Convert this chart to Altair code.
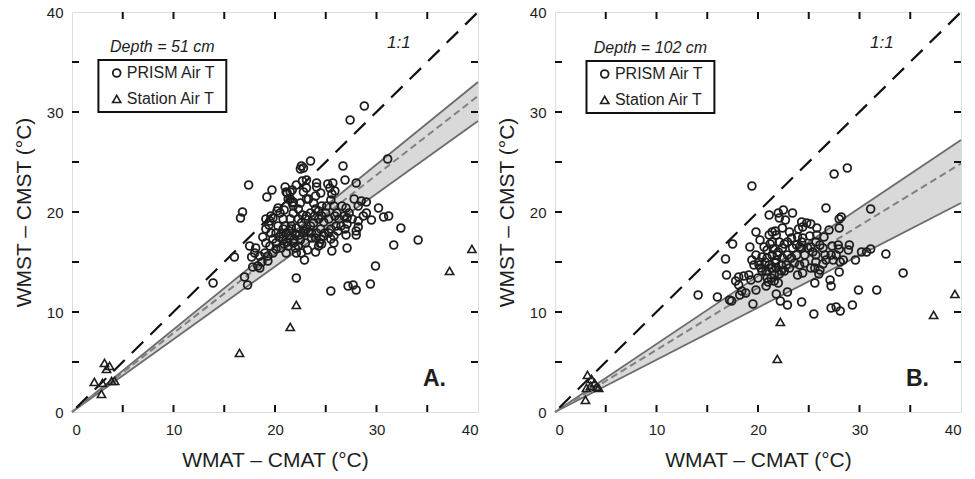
import altair as alt
import pandas as pd

# ---------------- data ----------------
# Panel A (Depth = 51 cm)
A_prism_x = [28.8, 27.4, 31.1, 17.4, 19.7, 19.2, 16.8, 16.6, 16.0, 13.9, 17.0, 17.3, 23.5, 22.6, 22.8, 22.5, 26.7, 26.9, 28.0, 30.2,
             30.7, 31.2, 32.4, 31.7, 34.1, 29.9, 29.4, 25.5, 27.2, 27.7, 28.0, 22.1, 22.9, 29.5, 28.2, 28.0, 27.1, 27.0, 25.6, 24.4,
             21.0, 21.2, 21.7, 22.1, 21.5, 23.1, 24.1, 24.1, 25.2, 25.7, 25.4, 25.9, 24.0, 24.5, 23.1, 21.5, 21.7, 21.8, 20.3, 20.5,
             19.6, 19.5, 19.4, 19.1, 19.1, 18.8, 18.1, 18.0, 17.7, 18.5, 18.7, 18.3, 17.8, 19.3, 18.5, 17.5, 20.1, 20.1, 20.6, 21.1,
             21.6, 22.1, 20.8, 21.5, 21.8, 21.3, 22.0, 22.3, 21.1, 22.1, 22.6, 22.8, 23.1, 23.5, 23.8, 24.3, 24.6, 23.1, 23.5, 24.0,
             24.6, 25.0, 25.3, 25.8, 26.1, 26.3, 26.6, 27.0, 27.3, 25.5, 25.8, 25.5, 26.5, 26.0, 24.5, 24.8, 24.5, 24.0, 23.6, 25.5,
             25.6, 27.8, 28.2, 28.5, 29.0, 29.0, 28.7, 28.2, 27.6, 27.1, 26.9, 21.1, 21.3, 21.8, 22.7, 22.8, 23.1, 23.3, 23.8, 22.5,
             22.3, 21.8, 21.5, 21.6, 20.8, 20.3, 20.1, 19.6, 19.8, 19.1, 19.5, 19.0, 19.3, 19.8, 20.8, 21.0, 20.6, 22.3, 22.6, 23.0,
             23.6, 24.1, 24.3, 24.6, 24.9, 25.3, 25.8, 26.8, 27.1, 28.0, 21.2, 21.9, 22.4, 22.9, 23.3, 22.0, 21.4, 20.9, 22.5, 23.0,
             20.4, 22.7, 23.9, 24.8, 25.1, 25.9, 24.3, 26.2, 24.0, 23.2, 20.2, 19.8, 20.9]
A_prism_y = [30.6, 29.2, 25.3, 22.7, 22.2, 21.5, 20.0, 19.4, 15.5, 12.9, 13.5, 12.7, 25.1, 24.6, 24.4, 24.3, 24.6, 23.2, 22.9, 20.4,
             19.5, 19.6, 18.4, 16.7, 17.2, 14.6, 12.8, 12.1, 12.6, 12.7, 12.2, 13.4, 15.2, 19.2, 18.5, 17.7, 16.4, 17.7, 16.1, 16.9,
             22.5, 21.9, 22.2, 22.7, 22.0, 23.2, 22.9, 22.5, 22.8, 22.9, 22.4, 22.1, 21.6, 21.9, 22.4, 21.3, 20.9, 20.6, 20.4, 19.9,
             19.6, 19.1, 18.7, 19.3, 18.3, 17.5, 16.4, 15.9, 15.5, 15.6, 15.0, 14.6, 14.5, 15.1, 14.4, 16.6, 16.9, 16.3, 16.4, 17.9,
             18.3, 18.4, 17.3, 17.6, 16.9, 16.6, 16.4, 16.6, 15.9, 15.9, 15.9, 17.9, 18.3, 18.6, 18.9, 19.3, 19.6, 19.6, 19.9, 20.3,
             20.6, 19.9, 19.3, 20.6, 19.9, 19.3, 20.6, 20.4, 19.9, 18.3, 17.6, 17.3, 18.6, 18.6, 18.3, 17.6, 17.3, 17.4, 17.4, 21.2,
             21.8, 21.3, 20.6, 21.1, 21.0, 19.9, 19.6, 19.1, 19.3, 18.8, 18.3, 22.0, 21.3, 21.0, 23.1, 22.0, 21.3, 21.3, 20.9, 20.9,
             20.3, 19.9, 19.3, 18.6, 19.3, 18.6, 17.9, 17.9, 17.3, 16.9, 16.6, 15.9, 15.6, 15.9, 18.3, 18.6, 17.8, 19.3, 18.9, 19.3,
             17.9, 17.9, 16.6, 16.8, 17.9, 17.9, 16.9, 19.6, 19.4, 18.1, 17.0, 17.3, 17.7, 18.1, 18.0, 17.8, 18.1, 16.8, 17.2, 16.9,
             17.5, 19.7, 19.6, 19.0, 20.6, 19.6, 20.1, 18.1, 16.0, 16.2, 20.1, 19.4, 20.2]
A_station_x = [3.2, 3.7, 3.4, 2.2, 3.0, 3.9, 4.2, 2.9, 16.5, 21.5, 22.1, 37.2, 39.4]
A_station_y = [4.9, 4.6, 4.3, 3.0, 2.9, 3.1, 3.1, 1.8, 5.9, 8.5, 10.7, 14.1, 16.3]

# Panel B (Depth = 102 cm)
B_prism_x = [28.8, 27.5, 19.4, 26.7, 31.1, 28.2, 28.0, 31.1, 30.2, 30.7, 32.6, 34.3, 31.7, 29.9, 29.3, 25.5, 27.2, 27.7, 28.1, 24.3,
             22.9, 22.2, 21.8, 22.9, 19.5, 19.8, 20.8, 22.0, 14.1, 16.0, 17.2, 17.4, 16.8, 16.9, 17.5, 18.1, 17.8, 18.1, 18.4, 18.8,
             18.2, 19.1, 19.2, 19.8, 20.2, 21.1, 22.0, 22.5, 22.1, 23.4, 22.7, 24.3, 24.4, 25.2, 25.8, 25.8, 27.0, 28.0, 28.0, 28.4,
             28.1, 29.0, 28.9, 29.6, 28.0, 27.1, 27.2, 25.7, 25.6, 25.6, 24.4, 23.9,
             19.6, 19.4, 20.1, 19.8, 20.4, 20.9, 20.3, 20.8, 21.3, 21.3, 21.6, 21.8, 21.1, 21.4, 21.8, 21.4, 21.7, 22.1, 22.4, 21.9,
             22.4, 22.8, 23.1, 22.9, 23.4, 23.8, 23.3, 23.9, 24.3, 24.3, 24.6, 24.9, 25.2, 25.4, 25.7, 26.1, 26.4, 26.6, 26.7, 26.4,
             26.1, 23.6, 24.1, 24.6, 22.3, 21.6, 20.6, 20.9, 21.4, 21.8, 22.3, 22.6, 23.8, 24.1, 22.9, 23.3, 20.1, 20.4, 20.9, 21.1,
             21.4, 22.4, 23.1, 24.4, 25.1, 27.2, 27.4, 27.7, 25.7, 21.5, 22.0, 22.6, 21.2, 20.7, 21.7, 22.1, 21.0, 20.0, 18.6, 19.3,
             24.8, 24.0, 26.5, 27.3, 26.0, 25.2, 27.9]
B_prism_y = [24.4, 23.8, 22.6, 20.4, 20.3, 19.5, 19.3, 16.3, 16.0, 16.0, 15.8, 13.9, 12.2, 12.2, 10.7, 9.8, 10.4, 10.5, 10.1, 11.0,
             10.7, 11.1, 11.8, 12.0, 10.8, 12.2, 12.6, 12.9, 11.7, 11.5, 11.2, 11.1, 15.3, 13.7, 16.8, 13.5, 13.1, 12.7, 12.1, 11.9,
             11.7, 13.7, 16.5, 18.0, 17.2, 19.7, 19.9, 20.2, 19.4, 19.9, 19.2, 19.0, 18.5, 18.8, 18.4, 17.7, 18.2, 18.4, 16.3, 15.2,
             15.0, 16.7, 16.2, 15.2, 14.0, 13.2, 12.6, 15.0, 14.4, 12.9, 13.9, 13.7,
             14.7, 15.2, 15.0, 15.7, 15.5, 15.4, 14.4, 14.1, 14.4, 13.4, 13.7, 14.4, 17.7, 17.0, 17.7, 18.0, 18.1, 17.0, 16.4, 15.7,
             15.4, 14.7, 14.4, 17.0, 16.4, 15.7, 17.4, 17.5, 17.0, 16.4, 15.7, 16.4, 16.5, 16.0, 17.0, 16.7, 16.4, 15.7, 15.2, 14.8,
             14.2, 14.9, 14.7, 14.9, 14.1, 13.1, 16.5, 16.2, 15.7, 15.2, 14.7, 14.1, 16.7, 16.5, 15.7, 15.4, 14.7, 14.1, 13.4, 14.7,
             14.4, 18.4, 18.0, 17.4, 17.6, 15.7, 15.2, 15.7, 15.7, 16.3, 16.0, 16.8, 16.8, 15.0, 14.9, 13.8, 13.0, 13.4, 13.6, 13.2,
             18.9, 18.3, 17.5, 16.6, 13.8, 14.4, 16.7]
B_station_x = [3.2, 3.6, 3.9, 3.1, 3.5, 4.1, 4.3, 3.0, 21.9, 22.2, 37.3, 39.4]
B_station_y = [3.7, 3.3, 2.9, 2.4, 2.6, 2.5, 2.4, 1.2, 5.3, 9.0, 9.7, 11.8]

# Regression lines (through origin) and 95% band, values at x = 0 and 40
fit_x = [0, 40]
A_fit = [0, 31.6]
A_lo = [0, 29.1]
A_hi = [0, 33.0]
B_fit = [0, 24.85]
B_lo = [0, 20.9]
B_hi = [0, 27.2]
one_to_one = [0, 40]

tick_minor = [5, 10, 15, 20, 25, 30, 35]
tick_labels = [0, 10, 20, 30, 40]

# ---------------- chart ----------------
FONT = "Liberation Sans"
W = 406
H = 400
K = W / 400.0
INK = "#1e1e1e"


def px_(v):
    return alt.value(round(v * K, 1))


def panel(px, py, sx, sy, lo, mid, hi, depth_text, letter, dx, dy):
    xs = alt.Scale(domain=[0, 40], nice=False, zero=False)
    ys = alt.Scale(domain=[0, 40], nice=False, zero=False)
    xax = alt.Axis(values=tick_labels, ticks=False, domain=False, grid=False,
                   labelFont=FONT, labelFontSize=15, labelColor=INK, labelPadding=10,
                   title="WMAT – CMAT (°C)", titleFont=FONT, titleFontSize=21,
                   titleFontWeight="normal", titleColor=INK, titlePadding=12)
    yax = alt.Axis(values=tick_labels, ticks=False, domain=False, grid=False,
                   labelFont=FONT, labelFontSize=15, labelColor=INK, labelPadding=9,
                   title="WMST – CMST (°C)", titleFont=FONT, titleFontSize=21,
                   titleFontWeight="normal", titleColor=INK, titlePadding=12)
    X = lambda f: alt.X(f, scale=xs, axis=xax)
    Y = lambda f: alt.Y(f, scale=ys, axis=yax)

    lines = pd.DataFrame({"x": fit_x, "lo": lo, "mid": mid, "hi": hi, "one": one_to_one})
    prism = pd.DataFrame({"x": px, "y": py})
    station = pd.DataFrame({"x": sx, "y": sy})
    ticks = pd.DataFrame({"t": tick_minor})
    one = pd.DataFrame({"k": [0]})

    band = alt.Chart(lines).mark_area(color="#d9d9d9", opacity=1).encode(
        x=X("x:Q"), y=Y("lo:Q"), y2="hi:Q")
    lo_l = alt.Chart(lines).mark_line(color="#6b6b6b", strokeWidth=1.8).encode(x=X("x:Q"), y=Y("lo:Q"))
    hi_l = alt.Chart(lines).mark_line(color="#6b6b6b", strokeWidth=1.8).encode(x=X("x:Q"), y=Y("hi:Q"))
    mid_l = alt.Chart(lines).mark_line(color="#808080", strokeWidth=2, strokeDash=[7, 4]).encode(
        x=X("x:Q"), y=Y("mid:Q"))
    one_l = alt.Chart(lines).mark_line(color="#111111", strokeWidth=2.2, strokeDash=[16, 10],
                                       strokeDashOffset=20).encode(x=X("x:Q"), y=Y("one:Q"))

    circ = alt.Chart(prism).mark_point(shape="circle", size=60, filled=False, color=INK,
                                       strokeWidth=1.8, opacity=1).encode(x=X("x:Q"), y=Y("y:Q"))
    tri = alt.Chart(station).mark_point(shape="triangle-up", size=68, filled=False, color=INK,
                                        strokeWidth=1.6, opacity=1).encode(x=X("x:Q"), y=Y("y:Q"))

    rule_kw = dict(color="#111111", strokeWidth=2)
    t_bot = alt.Chart(ticks).mark_rule(**rule_kw).encode(x=X("t:Q"), y=alt.value(H), y2=alt.value(H - 7))
    t_top = alt.Chart(ticks).mark_rule(**rule_kw).encode(x=X("t:Q"), y=alt.value(0), y2=alt.value(7))
    t_left = alt.Chart(ticks).mark_rule(**rule_kw).encode(y=Y("t:Q"), x=alt.value(0), x2=alt.value(7))
    t_right = alt.Chart(ticks).mark_rule(**rule_kw).encode(y=Y("t:Q"), x=alt.value(W), x2=alt.value(W - 7))

    box = alt.Chart(one).mark_rect(fill="white", stroke="#111111", strokeWidth=2).encode(
        x=px_(26 + dx), x2=px_(152 + dx), y=alt.value(48 + dy), y2=alt.value(100 + dy))
    leg_c = alt.Chart(one).mark_point(shape="circle", size=60, filled=False, color=INK, strokeWidth=1.8,
                                      opacity=1).encode(x=px_(44 + dx), y=alt.value(61 + dy))
    leg_t = alt.Chart(one).mark_point(shape="triangle-up", size=68, filled=False, color=INK, strokeWidth=1.6,
                                      opacity=1).encode(x=px_(44 + dx), y=alt.value(87 + dy))
    txt_kw = dict(font=FONT, fontSize=16, color=INK, align="left", baseline="middle")
    leg_t1 = alt.Chart(one).mark_text(text="PRISM Air T", **txt_kw).encode(
        x=px_(54 + dx), y=alt.value(61 + dy))
    leg_t2 = alt.Chart(one).mark_text(text="Station Air T", **txt_kw).encode(
        x=px_(54 + dx), y=alt.value(87 + dy))
    depth = alt.Chart(one).mark_text(text=depth_text, font=FONT, fontSize=16, fontStyle="italic", color=INK,
                                     align="center", baseline="middle").encode(
        x=px_(89 + dx), y=alt.value(35 + dy))
    ratio = alt.Chart(one).mark_text(text="1:1", font=FONT, fontSize=17, fontStyle="italic", color=INK,
                                     align="center", baseline="middle").encode(
        x=px_(322), y=alt.value(31))
    lett = alt.Chart(one).mark_text(text=letter, font=FONT, fontSize=23, fontWeight="bold", color=INK,
                                    align="center", baseline="middle").encode(
        x=px_(357), y=alt.value(367))

    return alt.layer(band, lo_l, hi_l, mid_l, one_l, circ, tri, t_bot, t_top, t_left, t_right,
                     box, leg_c, leg_t, leg_t1, leg_t2, depth, ratio, lett).properties(width=W, height=H)


pa = panel(A_prism_x, A_prism_y, A_station_x, A_station_y, A_lo, A_fit, A_hi, "Depth = 51 cm", "A.", 0, 0)
pb = panel(B_prism_x, B_prism_y, B_station_x, B_station_y, B_lo, B_fit, B_hi, "Depth = 102 cm", "B.", 5, 1)

chart = alt.hconcat(pa, pb, spacing=12).properties(
    padding={"left": 12, "top": 4, "right": 0, "bottom": 0}
).configure_view(stroke="#111111", strokeWidth=2).configure(background="white")

chart.save("out.html", embed_options={"renderer": "svg", "actions": False})
